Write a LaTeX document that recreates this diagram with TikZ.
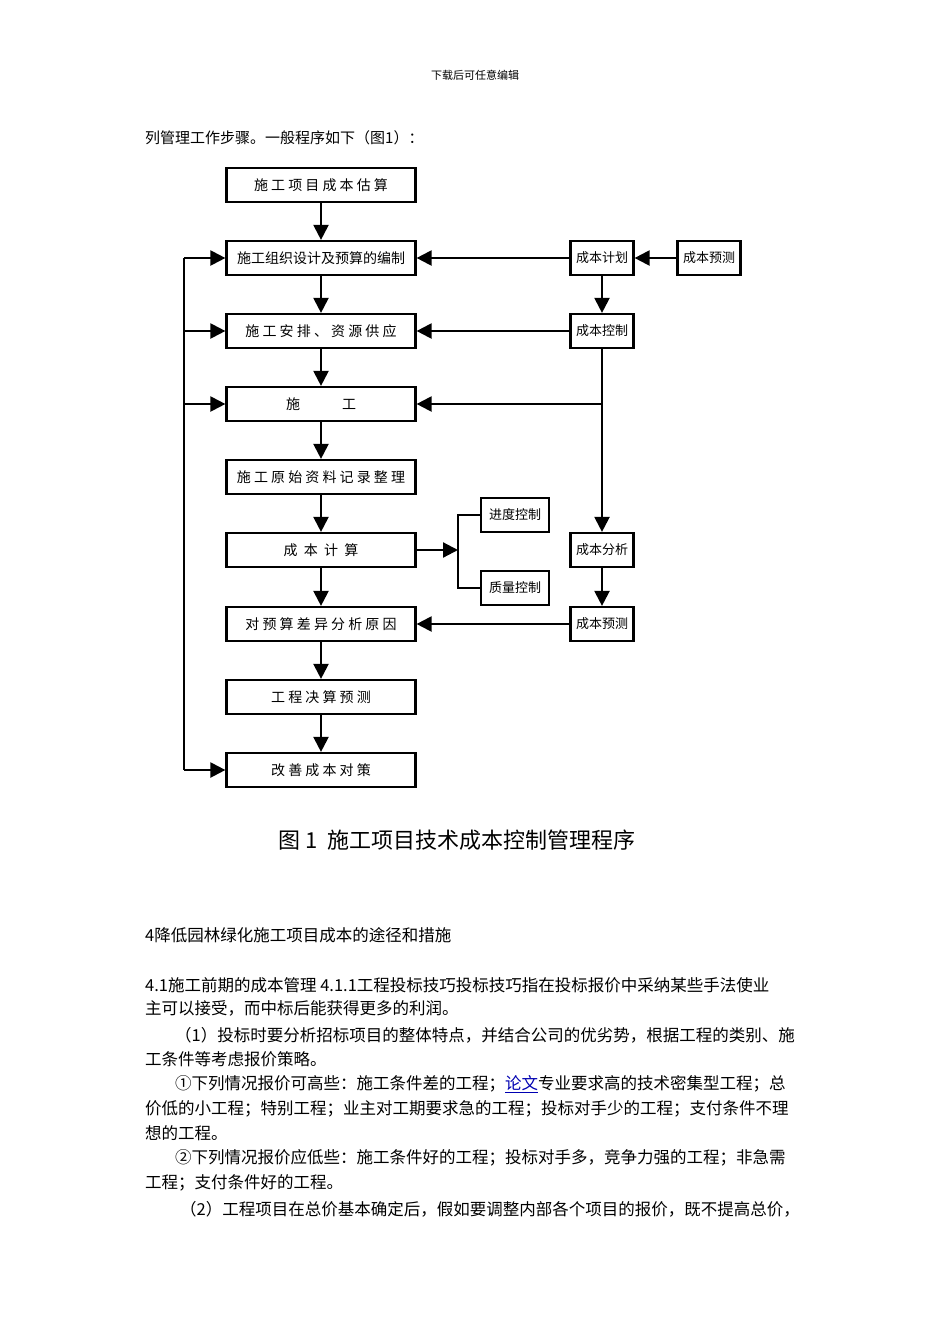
\documentclass[tikz,border=0pt]{standalone}
\usepackage{fontspec}
\setmainfont{Noto Sans CJK SC}
\newfontfamily\cjk{Noto Sans CJK SC}
\usetikzlibrary{arrows.meta}
\begin{document}
\begin{tikzpicture}[x=1pt,y=-1pt,
 bx/.style={draw,line width=2.2pt,minimum height=34pt,inner sep=0pt,font=\fontsize{14}{14}\selectfont},
 mb/.style={bx,minimum width=189pt},
 sb/.style={bx,minimum width=63pt,font=\fontsize{13}{13}\selectfont},
 ar/.style={line width=2.2pt,-{Triangle[length=15pt,width=15pt]}},
 ln/.style={line width=2.2pt},
 tx/.style={anchor=west,inner sep=0pt,font=\fontsize{16.5}{16.5}\selectfont}]
\useasboundingbox[fill=white] (0,0) rectangle (950,1344);
\node[font=\fontsize{11}{11}\selectfont] (hd) at (475,75) {下载后可任意编辑};
\node[tx,font=\fontsize{15}{15}\selectfont] (l0) at (145,138) {列管理工作步骤。一般程序如下（图1）：};
% main column
\node[mb] (a1) at (321,185) {施 工 项 目 成 本 估 算};
\node[mb] (a2) at (321,258) {施工组织设计及预算的编制};
\node[mb] (a3) at (321,331) {施 工 安 排 、 资 源 供 应};
\node[mb] (a4) at (321,404) {施\hspace{3em}工};
\node[mb] (a5) at (321,477) {施 工 原 始 资 料 记 录 整 理};
\node[mb] (a6) at (321,550) {成 \ 本 \ 计 \ 算};
\node[mb] (a7) at (321,624) {对 预 算 差 异 分 析 原 因};
\node[mb] (a8) at (321,697) {工 程 决 算 预 测};
\node[mb] (a9) at (321,770) {改 善 成 本 对 策};
\foreach \i/\j in {a1/a2,a2/a3,a3/a4,a4/a5,a5/a6,a6/a7,a7/a8,a8/a9}
  \draw[ar] (\i) -- (\j);
% right
\node[sb] (r1) at (602,258) {成本计划};
\node[sb] (r0) at (709,258) {成本预测};
\node[sb] (r2) at (602,331) {成本控制};
\node[sb] (r3) at (602,550) {成本分析};
\node[sb] (r4) at (602,624) {成本预测};
\node[sb,minimum width=68pt] (q1) at (515,515) {进度控制};
\node[sb,minimum width=68pt] (q2) at (515,588) {质量控制};
\draw[ar] (r0) -- (r1);
\draw[ar] (r1) -- (a2);
\draw[ar] (r1) -- (r2);
\draw[ar] (r2) -- (a3);
\draw[ar] (r2) -- (r3);
\coordinate (jr) at (602,404);
\draw[ar] (jr) -- (a4);
\draw[ar] (r3) -- (r4);
\draw[ar] (r4) -- (a7);
\coordinate (jb) at (458,550);
\draw[ar] (a6) -- (jb);
\draw[ln] (q1.west) -| (jb) |- (q2.west);
% left feedback
\coordinate (fl1) at (184,258);
\coordinate (fl2) at (184,770);
\draw[ln] (fl1) -- (fl2);
\draw[ar] (fl1) -- (a2);
\draw[ar] (184,331) -- (a3);
\draw[ar] (184,404) -- (a4);
\draw[ar] (fl2) -- (a9);
\node[font=\fontsize{22}{22}\selectfont] (cap) at (457,840) {图 1\ \ 施工项目技术成本控制管理程序};
% text
\node[tx] (t1) at (145,935) {4降低园林绿化施工项目成本的途径和措施};
\node[tx] (t2) at (145,985) {4.1施工前期的成本管理 4.1.1工程投标技巧投标技巧指在投标报价中采纳某些手法使业};
\node[tx] (t3) at (145,1008) {主可以接受，而中标后能获得更多的利润。};
\node[tx] (t4) at (175,1035) {（1）投标时要分析招标项目的整体特点，并结合公司的优劣势，根据工程的类别、施};
\node[tx] (t5) at (145,1059) {工条件等考虑报价策略。};
\node[tx] (t6) at (175,1084) {①下列情况报价可高些：施工条件差的工程；\textcolor{blue!70!black}{\underline{论文}}专业要求高的技术密集型工程；总};
\node[tx] (t7) at (145,1109) {价低的小工程；特别工程；业主对工期要求急的工程；投标对手少的工程；支付条件不理};
\node[tx] (t8) at (145,1133) {想的工程。};
\node[tx] (t9) at (175,1158) {②下列情况报价应低些：施工条件好的工程；投标对手多，竞争力强的工程；非急需};
\node[tx] (t10) at (145,1183) {工程；支付条件好的工程。};
\node[tx] (t11) at (180,1209) {（2）工程项目在总价基本确定后，假如要调整内部各个项目的报价，既不提高总价，};
\end{tikzpicture}
\end{document}
